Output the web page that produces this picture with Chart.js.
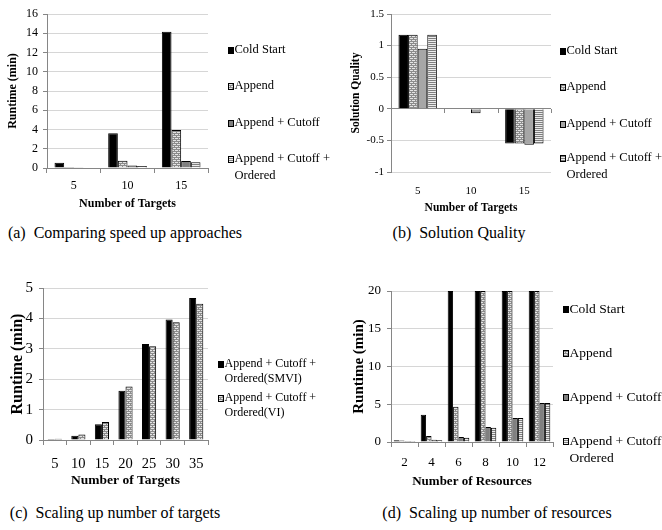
<!DOCTYPE html>
<html>
<head>
<meta charset="utf-8">
<script src="https://cdn.jsdelivr.net/npm/chart.js@4.4.1/dist/chart.umd.min.js"></script>
<style>
  body { margin: 0; background: #fff; }
  #page { position: relative; width: 662px; height: 530px; overflow: hidden; font-family: 'Liberation Serif', 'Times New Roman', serif; }
  #page canvas { position: absolute; }
  .cap { position: absolute; font-size: 16px; white-space: nowrap; transform: translateX(-50%); line-height: 18px; }
</style>
</head>
<body>
<div id="page">
  <canvas id="chartA" width="331" height="220" style="left:0;top:0"></canvas>
  <canvas id="chartB" width="331" height="220" style="left:331px;top:0"></canvas>
  <canvas id="chartC" width="331" height="230" style="left:0;top:270px"></canvas>
  <canvas id="chartD" width="331" height="230" style="left:331px;top:270px"></canvas>
  <div class="cap" style="left:125px;top:224px">(a)&nbsp; Comparing speed up approaches</div>
  <div class="cap" style="left:459px;top:224px">(b)&nbsp; Solution Quality</div>
  <div class="cap" style="left:115px;top:504px">(c)&nbsp; Scaling up number of targets</div>
  <div class="cap" style="left:497px;top:504px">(d)&nbsp; Scaling up number of resources</div>
</div>
<script>
// series names
var seriesNames = ['Cold Start', 'Append', 'Append + Cutoff', 'Append + Cutoff + Ordered'];
var seriesNamesC = ['Append + Cutoff + Ordered(SMVI)', 'Append + Cutoff + Ordered(VI)'];

// (a) comparing speed up approaches
var targetsA = ['5', '10', '15'];
var coldStartA = [0.55, 3.6, 14.15];
var appendA = [0.1, 0.75, 3.95];
var cutoffA = [0.07, 0.25, 0.72];
var orderedA = [0.05, 0.2, 0.6];
var yTicksA = [0, 2, 4, 6, 8, 10, 12, 14, 16];

// (b) solution quality
var targetsB = ['5', '10', '15'];
var coldStartB = [1.17, 0.01, -0.55];
var appendB = [1.17, 0.01, -0.55];
var cutoffB = [0.95, -0.07, -0.57];
var orderedB = [1.17, 0.01, -0.55];
var yTicksB = [-1, -0.5, 0, 0.5, 1, 1.5];

// (c) scaling up number of targets
var targetsC = ['5', '10', '15', '20', '25', '30', '35'];
var smviC = [0.03, 0.14, 0.52, 1.62, 3.16, 3.96, 4.67];
var viC = [0.04, 0.18, 0.59, 1.76, 3.08, 3.87, 4.48];
var yTicksC = [0, 1, 2, 3, 4, 5];

// (d) scaling up number of resources
var resourcesD = ['2', '4', '6', '8', '10', '12'];
var coldStartD = [0.22, 3.6, 20, 20, 20, 20];
var appendD = [0.2, 0.8, 4.68, 20, 20, 20];
var cutoffD = [0.13, 0.3, 0.66, 1.99, 3.18, 5.17];
var orderedD = [0.12, 0.22, 0.57, 1.9, 3.18, 5.17];
var yTicksD = [0, 5, 10, 15, 20];

Chart.defaults.font.family = "'Liberation Serif', 'Times New Roman', serif";
Chart.defaults.color = '#000';

function makePattern(kind) {
    var c = document.createElement('canvas');
    var g = c.getContext('2d');
    if (kind === 'brick') {
        c.width = 4; c.height = 4;
        g.fillStyle = '#e4e4e4'; g.fillRect(0, 0, 4, 4);
        g.fillStyle = '#8c8c8c';
        g.fillRect(0, 1, 4, 1);
        g.fillRect(0, 3, 4, 1);
        g.fillRect(0, 0, 1, 1);
        g.fillRect(2, 2, 1, 1);
    } else {
        c.width = 2; c.height = 2;
        g.fillStyle = '#7f7f7f'; g.fillRect(0, 0, 2, 1);
        g.fillStyle = '#ececec'; g.fillRect(0, 1, 2, 1);
    }
    return g.createPattern(c, 'repeat');
}
var brick = makePattern('brick');
var stripes = makePattern('stripes');

function wrapText(ctx, text, maxWidth) {
    var words = text.split(' '), lines = [], cur = '';
    words.forEach(function(w) {
        var t = cur ? cur + ' ' + w : w;
        if (cur && ctx.measureText(t).width > maxWidth) { lines.push(cur); cur = w; }
        else cur = t;
    });
    lines.push(cur);
    return lines;
}

// legend drawn at the side, excel style
var sideLegend = {
    id: 'sideLegend',
    afterDraw: function(chart, args, opts) {
        var ctx = chart.ctx;
        ctx.save();
        if (opts.zeroTicks) {
            var xs = chart.scales.x, y0 = Math.round(chart.scales.y.getPixelForValue(0));
            ctx.strokeStyle = '#868686';
            ctx.lineWidth = 1;
            for (var i = 0; i <= chart.data.labels.length; i++) {
                var px = Math.round(xs.getPixelForValue(i - 0.5)) + 0.5;
                ctx.beginPath(); ctx.moveTo(px, y0); ctx.lineTo(px, y0 + 4); ctx.stroke();
            }
        }
        ctx.font = opts.size + "px 'Liberation Serif', serif";
        ctx.textBaseline = 'middle';
        chart.data.datasets.forEach(function(ds, i) {
            var y = opts.rows[i];
            ctx.fillStyle = ds.backgroundColor;
            ctx.fillRect(opts.x, y - 3, 5, 6);
            ctx.strokeStyle = '#000';
            ctx.lineWidth = 1;
            ctx.strokeRect(opts.x + 0.5, y - 2.5, 5, 6);
            ctx.fillStyle = '#000';
            wrapText(ctx, ds.label, opts.maxWidth).forEach(function(line, k) {
                ctx.fillText(line, opts.x + 6.5, y + k * opts.lineGap);
            });
        });
        ctx.restore();
    }
};

function barChart(id, labels, sets, o) {
    var canvas = document.getElementById(id);
    var W = canvas.width, H = canvas.height;
    return new Chart(canvas, {
        type: 'bar',
        data: {
            labels: labels,
            datasets: sets.map(function(s) {
                return {
                    label: s[0],
                    data: s[1],
                    backgroundColor: s[2],
                    borderColor: '#000',
                    borderWidth: 1,
                    barPercentage: 1,
                    categoryPercentage: o.cat
                };
            })
        },
        options: {
            responsive: false,
            animation: false,
            devicePixelRatio: 1,
            layout: { padding: { left: 0, top: o.box[1], right: W - o.box[2], bottom: 0 } },
            plugins: {
                legend: { display: false },
                tooltip: { enabled: false },
                sideLegend: o.legend
            },
            scales: {
                x: {
                    afterFit: function(s) { s.height = H - o.box[3]; },
                    grid: { offset: true, drawOnChartArea: false, drawTicks: !o.zeroAxis, tickLength: 5, tickColor: '#868686' },
                    border: { display: !o.zeroAxis, color: '#868686' },
                    ticks: { font: { size: o.xTick }, padding: o.xPad, maxRotation: 0 },
                    title: {
                        display: true,
                        text: o.xTitle,
                        font: { size: o.xTitleSize, weight: 'bold' },
                        padding: { top: 0, bottom: o.xTitlePad }
                    }
                },
                y: {
                    min: o.yTicks[0],
                    max: o.yTicks[o.yTicks.length - 1],
                    afterFit: function(s) { s.width = o.box[0]; },
                    afterBuildTicks: function(s) {
                        s.ticks = o.yTicks.map(function(v) { return { value: v }; });
                    },
                    grid: {
                        color: function(c) {
                            return (o.zeroAxis && c.tick && c.tick.value === 0) ? '#868686' : '#d6d6d6';
                        },
                        tickLength: 4,
                        tickColor: '#868686'
                    },
                    border: { color: '#868686' },
                    ticks: {
                        font: { size: o.yTick },
                        padding: o.yPad,
                        callback: function(v) { return String(v); }
                    },
                    title: {
                        display: true,
                        text: o.yTitle,
                        font: { size: o.yTitleSize, weight: 'bold' },
                        padding: { top: o.yTitlePad, bottom: 0 }
                    }
                }
            }
        },
        plugins: [sideLegend]
    });
}

barChart('chartA', targetsA, [
    [seriesNames[0], coldStartA, '#000'],
    [seriesNames[1], appendA, brick],
    [seriesNames[2], cutoffA, '#808080'],
    [seriesNames[3], orderedA, stripes]
], {
    box: [47, 14, 208, 168], cat: 0.72,
    xTick: 12, xPad: 6, xTitle: 'Number of Targets', xTitleSize: 12, xTitlePad: 9,
    yTicks: yTicksA, yTick: 12, yPad: 5, yTitle: 'Runtime (min)', yTitleSize: 12, yTitlePad: 6,
    legend: { x: 228, rows: [50, 86, 123, 159], lineGap: 16.5, size: 12.5, maxWidth: 98 }
});

barChart('chartB', targetsB, [
    [seriesNames[0], coldStartB, '#000'],
    [seriesNames[1], appendB, brick],
    [seriesNames[2], cutoffB, '#a6a6a6'],
    [seriesNames[3], orderedB, stripes]
], {
    box: [60, 14, 220, 172], cat: 0.72, zeroAxis: true,
    xTick: 11, xPad: 13, xTitle: 'Number of Targets', xTitleSize: 11.5, xTitlePad: 5,
    yTicks: yTicksB, yTick: 11, yPad: 3, yTitle: 'Solution Quality', yTitleSize: 11.5, yTitlePad: 18,
    legend: { x: 229, rows: [51, 87, 124, 158], lineGap: 17, size: 12.5, maxWidth: 100, zeroTicks: true }
});

barChart('chartC', targetsC, [
    [seriesNamesC[0], smviC, '#000'],
    [seriesNamesC[1], viC, brick]
], {
    box: [43, 18, 208, 170], cat: 0.6,
    xTick: 14.5, xPad: 10, xTitle: 'Number of Targets', xTitleSize: 13.5, xTitlePad: 11,
    yTicks: yTicksC, yTick: 15, yPad: 6, yTitle: 'Runtime (min)', yTitleSize: 16, yTitlePad: 8,
    legend: { x: 218, rows: [94, 128], lineGap: 14.5, size: 12, maxWidth: 105 }
});

barChart('chartD', resourcesD, [
    [seriesNames[0], coldStartD, '#000'],
    [seriesNames[1], appendD, brick],
    [seriesNames[2], cutoffD, '#808080'],
    [seriesNames[3], orderedD, stripes]
], {
    box: [60, 21, 222, 172], cat: 0.8,
    xTick: 13, xPad: 8, xTitle: 'Number of Resources', xTitleSize: 13, xTitlePad: 11,
    yTicks: yTicksD, yTick: 13, yPad: 6, yTitle: 'Runtime (min)', yTitleSize: 15, yTitlePad: 19,
    legend: { x: 232, rows: [39, 83, 127, 171], lineGap: 17, size: 13.5, maxWidth: 110 }
});
</script>
</body>
</html>
